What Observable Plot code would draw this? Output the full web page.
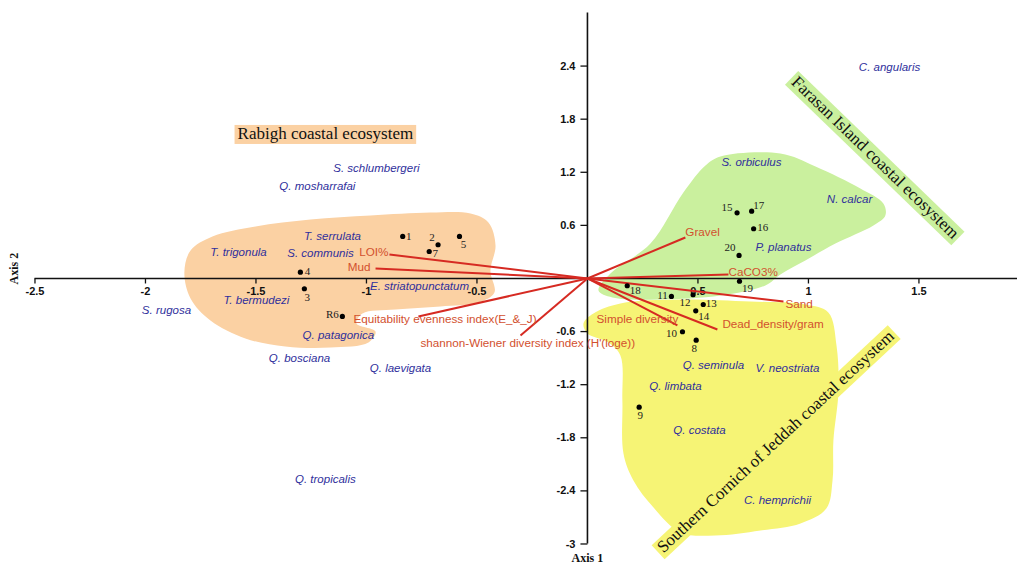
<!DOCTYPE html>
<html>
<head>
<meta charset="utf-8">
<script src="https://cdn.jsdelivr.net/npm/d3@7"></script>
<script src="https://cdn.jsdelivr.net/npm/@observablehq/plot@0.6"></script>
<style>
  html, body { margin: 0; padding: 0; background: #fff; }
</style>
</head>
<body>
<div id="chart"></div>
<script>
// ---- Axis ticks ----
const xTicks = [-2.5, -2, -1.5, -1, -0.5, 0.5, 1, 1.5];
const yTicks = [2.4, 1.8, 1.2, 0.6, -0.6, -1.2, -1.8, -2.4, -3];
const yAxisTop = 3;

// ---- Sample (site) scores ----
const siteIds = ["1", "2", "3", "4", "5", "R6", "7", "8", "9", "10",
                 "11", "12", "13", "14", "15", "16", "17", "18", "19", "20"];
const siteX = [-0.836, -0.676, -1.281, -1.299, -0.579, -1.109, -0.716, 0.492, 0.234, 0.430,
               0.380, 0.478, 0.524, 0.490, 0.677, 0.752, 0.743, 0.180, 0.688, 0.686];
const siteY = [0.475, 0.381, -0.116, 0.071, 0.475, -0.429, 0.305, -0.697, -1.454, -0.602,
               -0.203, -0.184, -0.294, -0.365, 0.742, 0.562, 0.760, -0.082, -0.031, 0.260];

// ---- Species scores ----
const speciesNames = ["C. angularis", "S. orbiculus", "N. calcar", "P. planatus",
  "S. schlumbergeri", "Q. mosharrafai", "T. serrulata", "T. trigonula", "S. communis",
  "E. striatopunctatum", "T. bermudezi", "S. rugosa", "Q. patagonica", "Q. bosciana",
  "Q. laevigata", "Q. tropicalis", "Q. seminula", "V. neostriata", "Q. limbata",
  "Q. costata", "C. hemprichii"];
const speciesX = [1.367, 0.742, 1.186, 0.887, -0.955, -1.222, -1.154, -1.579, -1.208,
  -0.760, -1.498, -1.905, -1.127, -1.303, -0.846, -1.186, 0.570, 0.905, 0.398, 0.507, 0.860];
const speciesY = [2.384, 1.311, 0.893, 0.350, 1.243, 1.040, 0.475, 0.294, 0.282,
  -0.090, -0.249, -0.362, -0.644, -0.904, -1.017, -2.271, -0.983, -1.017, -1.220, -1.718, -2.508];

// ---- Environmental / index vectors ----
const vectorNames = ["LOI%", "Mud", "Equitability evenness index(E_&_J)",
  "shannon-Wiener diversity index (H'(loge))", "Gravel", "CaCO3%", "Sand",
  "Dead_density/gram", "Simple diversity"];
const vectorX = [-0.896, -0.959, -0.765, -0.303, 0.443, 0.638, 0.887, 0.588, 0.407];
const vectorY = [0.271, 0.113, -0.429, -0.644, 0.463, 0.045, -0.260, -0.576, -0.531];

// ---- Ecosystem envelopes (outline vertices in axis units) ----
const rabighHull = [[-1.824, 0.068], [-1.796, 0.316], [-1.697, 0.475], [-1.502, 0.588],
  [-1.253, 0.667], [-0.982, 0.712], [-0.710, 0.746], [-0.529, 0.734], [-0.448, 0.633],
  [-0.416, 0.373], [-0.439, 0.090], [-0.421, -0.158], [-0.493, -0.271], [-0.665, -0.316],
  [-0.869, -0.350], [-1.018, -0.395], [-1.045, -0.508], [-0.959, -0.599], [-0.991, -0.723],
  [-1.163, -0.780], [-1.367, -0.768], [-1.548, -0.678], [-1.706, -0.475], [-1.796, -0.226]];
const farasanHull = [[0.602, 1.379], [0.873, 1.412], [1.032, 1.266], [1.235, 1.017],
  [1.339, 0.847], [1.348, 0.712], [1.294, 0.599], [1.122, 0.395], [0.986, 0.203],
  [0.873, 0.045], [0.805, -0.079], [0.602, -0.192], [0.330, -0.237], [0.113, -0.215],
  [0.050, -0.136], [0.104, 0.056], [0.285, 0.395], [0.434, 0.972], [0.534, 1.277]];
const jeddahHull = [[-0.018, -0.508], [0.027, -0.395], [0.149, -0.282], [0.421, -0.237],
  [0.738, -0.260], [0.986, -0.294], [1.090, -0.384], [1.127, -0.757], [1.136, -1.266],
  [1.113, -1.831], [1.109, -2.282], [1.081, -2.599], [0.964, -2.768], [0.783, -2.847],
  [0.579, -2.904], [0.421, -2.870], [0.299, -2.588], [0.208, -2.282], [0.163, -1.977],
  [0.158, -1.379], [0.149, -0.870], [0.095, -0.723], [0.000, -0.621]];

// ---- Ecosystem titles ----
const regionNames = ["Rabigh coastal ecosystem", "Farasan Island coastal ecosystem",
  "Southern Cornich of Jeddah coastal ecosystem"];
const regionX = [-1.186, 1.303, 0.851];
const regionY = [1.638, 1.367, -1.842];
const regionAngle = [0, 44, -43];

// ---- Styling ----
const regionFill = {
  "Rabigh coastal ecosystem": "#fbd1a3",
  "Farasan Island coastal ecosystem": "#caf09e",
  "Southern Cornich of Jeddah coastal ecosystem": "#f6f475"
};
const sans = "'Liberation Sans', Arial, sans-serif";
const serif = "'Liberation Serif', 'Times New Roman', serif";
const speciesColor = "#2f2f9c";
const vectorLineColor = "#d62a22";
const vectorTextColor = "#d2502e";

// label offsets (px) for the site numbers around each dot
const siteLabelOffset = {
  "1": [6, 0], "2": [-6, -7], "3": [3, 9], "4": [7, -1], "5": [4, 8], "R6": [-10, -2],
  "7": [6, 2], "8": [-2, 8], "9": [1, 8], "10": [-11, 2], "11": [-9, -1], "12": [-8, 8],
  "13": [8, -1], "14": [8, 6], "15": [-10, -5], "16": [9, -1], "17": [7, -6],
  "18": [8, 5], "19": [8, 7], "20": [-9, -8]
};
// label placement for the vector names relative to the arrow tips
const vectorLabelStyle = {
  "LOI%": {textAnchor: "end", dx: -1, dy: -2},
  "Mud": {textAnchor: "end", dx: -5, dy: -1},
  "Equitability evenness index(E_&_J)": {textAnchor: "start", dx: -65, dy: 3},
  "shannon-Wiener diversity index (H'(loge))": {textAnchor: "start", dx: -100, dy: 8},
  "Gravel": {textAnchor: "start", dx: 0, dy: -5},
  "CaCO3%": {textAnchor: "start", dx: 0, dy: -2},
  "Sand": {textAnchor: "start", dx: 2, dy: 3},
  "Dead_density/gram": {textAnchor: "start", dx: 5, dy: -5},
  "Simple diversity": {textAnchor: "end", dx: 1, dy: -6}
};

const sites = siteIds.map((id, i) => ({id, x: siteX[i], y: siteY[i]}));
const species = speciesNames.map((name, i) => ({name, x: speciesX[i], y: speciesY[i]}));
const vectors = vectorNames.map((name, i) => ({name, x: vectorX[i], y: vectorY[i]}));
const regions = regionNames.map((name, i) => ({name, x: regionX[i], y: regionY[i], angle: regionAngle[i]}));

// short tick symbols: left of the vertical axis, below the horizontal axis
const tickLeft = {draw(ctx) { ctx.moveTo(-7, 0); ctx.lineTo(0, 0); }};
const tickDown = {draw(ctx) { ctx.moveTo(0, 0); ctx.lineTo(0, 5); }};

const hull = (pts, fill) => Plot.line(pts, {
  x: d => d[0], y: d => d[1], curve: "catmull-rom-closed", fill, stroke: "none"
});

const svg = Plot.plot({
  width: 1017,
  height: 568,
  margin: 0,
  style: {background: "#fff", fontFamily: sans, overflow: "visible"},
  x: {domain: [-2.656, 1.946], axis: null},
  y: {domain: [-3.277, 3.141], axis: null},
  marks: [
    // ecosystem envelopes
    hull(rabighHull, regionFill[regionNames[0]]),
    hull(farasanHull, regionFill[regionNames[1]]),
    hull(jeddahHull, regionFill[regionNames[2]]),

    // axes through the origin
    Plot.ruleY([0], {x1: xTicks[0], x2: 1.946, stroke: "#111", strokeWidth: 1.6}),
    Plot.ruleX([0], {y1: yTicks[yTicks.length - 1], y2: yAxisTop, stroke: "#111", strokeWidth: 1.6}),
    Plot.dot(xTicks, {x: d => d, y: 0, symbol: tickDown, stroke: "#111", fill: "none", strokeWidth: 1.3}),
    Plot.dot(yTicks, {x: 0, y: d => d, symbol: tickLeft, stroke: "#111", fill: "none", strokeWidth: 1.3}),
    Plot.text(xTicks, {x: d => d, y: 0, text: d => String(d), dy: 13,
      fontWeight: "bold", fontSize: 11, fill: "#111", fontFamily: sans}),
    Plot.text(yTicks, {x: 0, y: d => d, text: d => String(d), textAnchor: "end", dx: -12,
      fontWeight: "bold", fontSize: 11, fill: "#111", fontFamily: sans}),
    Plot.text(["Axis 2"], {frameAnchor: "left", dx: 14, rotate: -90,
      fontWeight: "bold", fontSize: 12, fontFamily: serif, fill: "#111"}),
    Plot.text(["Axis 1"], {x: 0, frameAnchor: "bottom", dy: -7,
      fontWeight: "bold", fontSize: 12, fontFamily: serif, fill: "#111"}),

    // environmental vectors
    Plot.link(vectors, {x1: 0, y1: 0, x2: "x", y2: "y", stroke: vectorLineColor, strokeWidth: 2}),
    ...vectors.map(v => Plot.text([v], {
      x: "x", y: "y", text: "name", fill: vectorTextColor, fontSize: 11.7, fontFamily: sans,
      ...vectorLabelStyle[v.name]
    })),

    // species
    Plot.text(species, {x: "x", y: "y", text: "name", fill: speciesColor,
      fontStyle: "italic", fontSize: 11.5, fontFamily: sans}),

    // sites
    Plot.dot(sites, {x: "x", y: "y", r: 2.6, fill: "#000"}),
    ...sites.map(s => Plot.text([s], {
      x: "x", y: "y", text: "id", fill: "#222", fontSize: 11, fontFamily: serif,
      dx: siteLabelOffset[s.id][0], dy: siteLabelOffset[s.id][1]
    })),

    // ecosystem titles
    ...regions.map(r => Plot.text([r], {
      x: "x", y: "y", text: "name", rotate: r.angle, fontSize: 17, fontFamily: serif,
      fill: "#111"
    }))
  ]
});

document.getElementById("chart").append(svg);

// Put a coloured label box behind each ecosystem title
svg.querySelectorAll("text").forEach(t => {
  const fill = regionFill[t.textContent];
  if (!fill) return;
  const b = t.getBBox();
  const rect = document.createElementNS("http://www.w3.org/2000/svg", "rect");
  rect.setAttribute("x", b.x - 3);
  rect.setAttribute("y", b.y + 1);
  rect.setAttribute("width", b.width + 6);
  rect.setAttribute("height", b.height);
  rect.setAttribute("fill", fill);
  const tr = t.getAttribute("transform");
  if (tr) rect.setAttribute("transform", tr);
  t.parentNode.insertBefore(rect, t);
});
</script>
</body>
</html>
